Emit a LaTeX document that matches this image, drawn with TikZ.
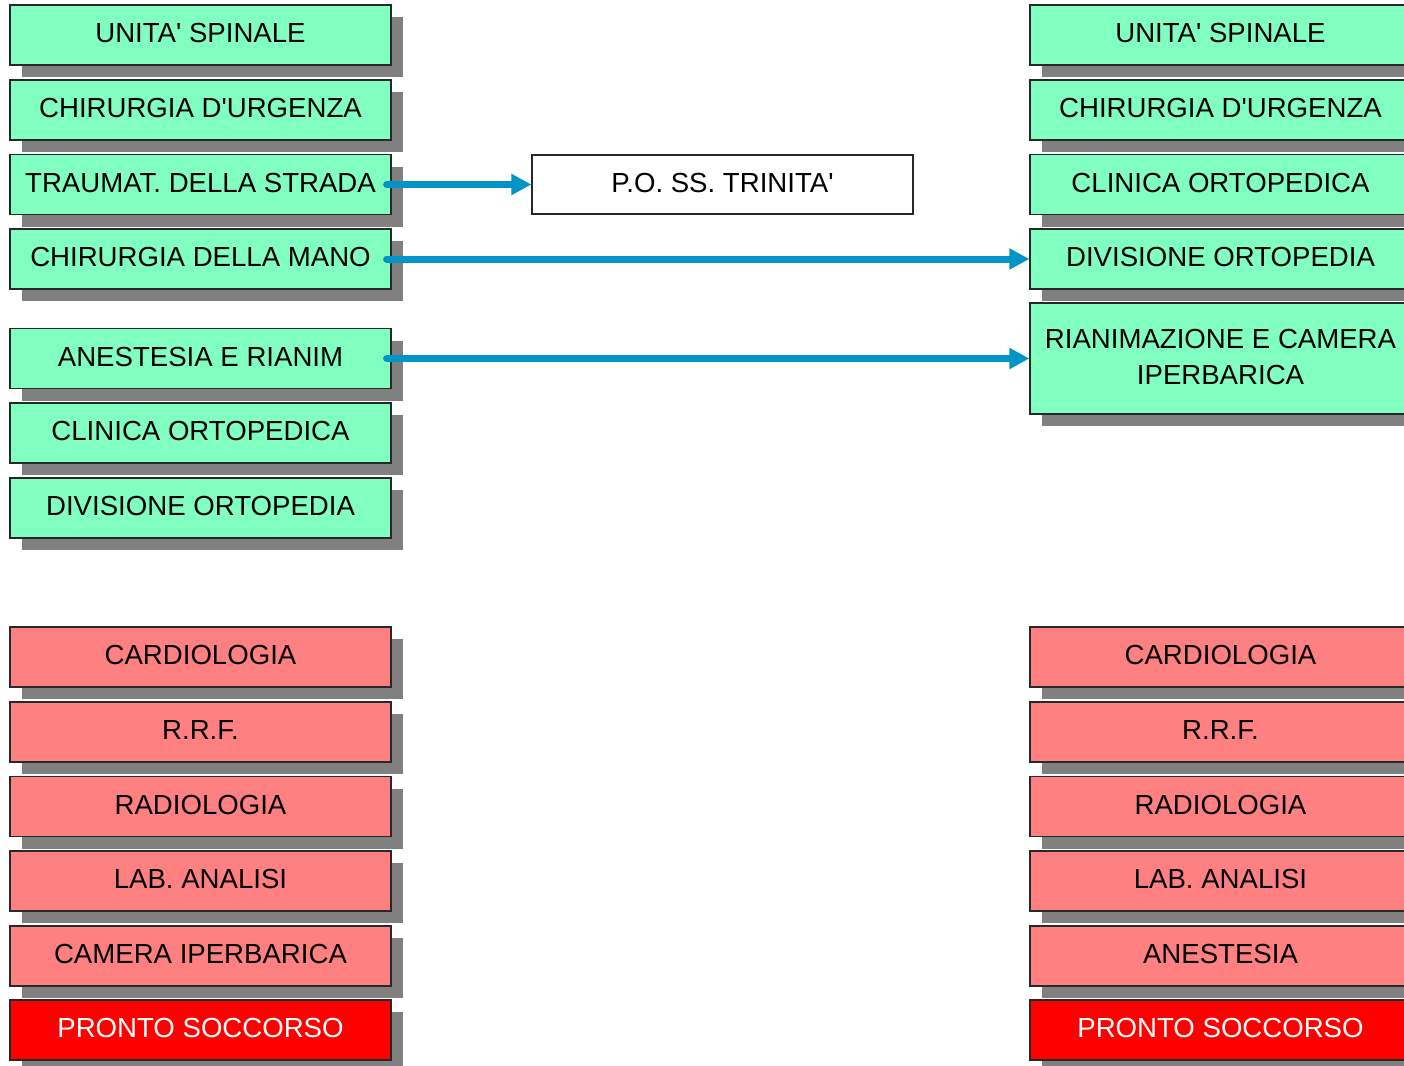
\documentclass[tikz,border=0pt]{standalone}
\usepackage{fontspec}
\setmainfont{Liberation Sans}
\usetikzlibrary{arrows.meta,shadows}

\definecolor{mint}{RGB}{128,255,192}
\definecolor{salmon}{RGB}{255,128,128}
\definecolor{alarm}{RGB}{255,0,0}
\definecolor{edge}{RGB}{40,40,40}
\definecolor{shade}{RGB}{128,128,128}
\definecolor{flow}{RGB}{0,148,200}

\newcommand{\apos}{\textquotesingle}

\tikzset{
  dept/.style={draw=edge, line width=0.6pt, minimum width=190.5pt, minimum height=30pt,
    inner sep=0pt, align=center, text depth=2pt, font=\fontsize{13.8}{18}\selectfont,
    drop shadow={shadow xshift=6pt, shadow yshift=-6pt, fill=shade, opacity=1}},
  ortho/.style={dept, fill=mint},
  service/.style={dept, fill=salmon},
  emergency/.style={dept, fill=alarm, text=white},
  hospital/.style={draw=edge, line width=0.6pt, fill=white, minimum width=190.5pt,
    minimum height=29.5pt, inner sep=0pt, text depth=2pt, font=\fontsize{13.8}{18}\selectfont},
  link/.style={draw=flow, line width=3.5pt, line cap=round,
    -{Triangle[length=10pt,width=10pt]}}
}

\begin{document}
\begin{tikzpicture}[x=0.5pt,y=-0.5pt]
\useasboundingbox (0,0) rectangle (1404,1066);
\clip (0,0) rectangle (1404,1066);

% left column, orthopaedic units
\node[ortho] (lspinale) at (200.5,35) {UNITA\apos{} SPINALE};
\node[ortho] (lurgenza) at (200.5,110) {CHIRURGIA D\apos{}URGENZA};
\node[ortho] (ltraumat) at (200.5,184.5) {TRAUMAT. DELLA STRADA};
\node[ortho] (lmano) at (200.5,259) {CHIRURGIA DELLA MANO};
\node[ortho] (lanest) at (200.5,358.5) {ANESTESIA E RIANIM};
\node[ortho] (lclinica) at (200.5,433) {CLINICA ORTOPEDICA};
\node[ortho] (ldivisione) at (200.5,508) {DIVISIONE ORTOPEDIA};

% left column, services
\node[service] (lcardio) at (200.5,657) {CARDIOLOGIA};
\node[service] (lrrf) at (200.5,732) {R.R.F.};
\node[service] (lradio) at (200.5,806.5) {RADIOLOGIA};
\node[service] (llab) at (200.5,881) {LAB. ANALISI};
\node[service] (lcamera) at (200.5,956) {CAMERA IPERBARICA};
\node[emergency] (lpronto) at (200.5,1030) {PRONTO SOCCORSO};

% other hospital
\node[hospital] (trinita) at (722.5,184.5) {P.O. SS. TRINITA\apos};

% right column, orthopaedic units
\node[ortho] (rspinale) at (1220.5,35) {UNITA\apos{} SPINALE};
\node[ortho] (rurgenza) at (1220.5,110) {CHIRURGIA D\apos{}URGENZA};
\node[ortho] (rclinica) at (1220.5,184.5) {CLINICA ORTOPEDICA};
\node[ortho] (rdivisione) at (1220.5,259) {DIVISIONE ORTOPEDIA};
\node[ortho, minimum height=55.5pt] (rrianim) at (1220.5,358.5) {RIANIMAZIONE E CAMERA\\IPERBARICA};

% right column, services
\node[service] (rcardio) at (1220.5,657) {CARDIOLOGIA};
\node[service] (rrrf) at (1220.5,732) {R.R.F.};
\node[service] (rradio) at (1220.5,806.5) {RADIOLOGIA};
\node[service] (rlab) at (1220.5,881) {LAB. ANALISI};
\node[service] (ranest) at (1220.5,956) {ANESTESIA};
\node[emergency] (rpronto) at (1220.5,1030) {PRONTO SOCCORSO};

% moves
\draw[link] ([xshift=-2.5pt]ltraumat.east) -- (trinita.west);
\draw[link] ([xshift=-2.5pt]lmano.east) -- (rdivisione.west);
\draw[link] ([xshift=-2.5pt]lanest.east) -- (rrianim.west);

\end{tikzpicture}
\end{document}
